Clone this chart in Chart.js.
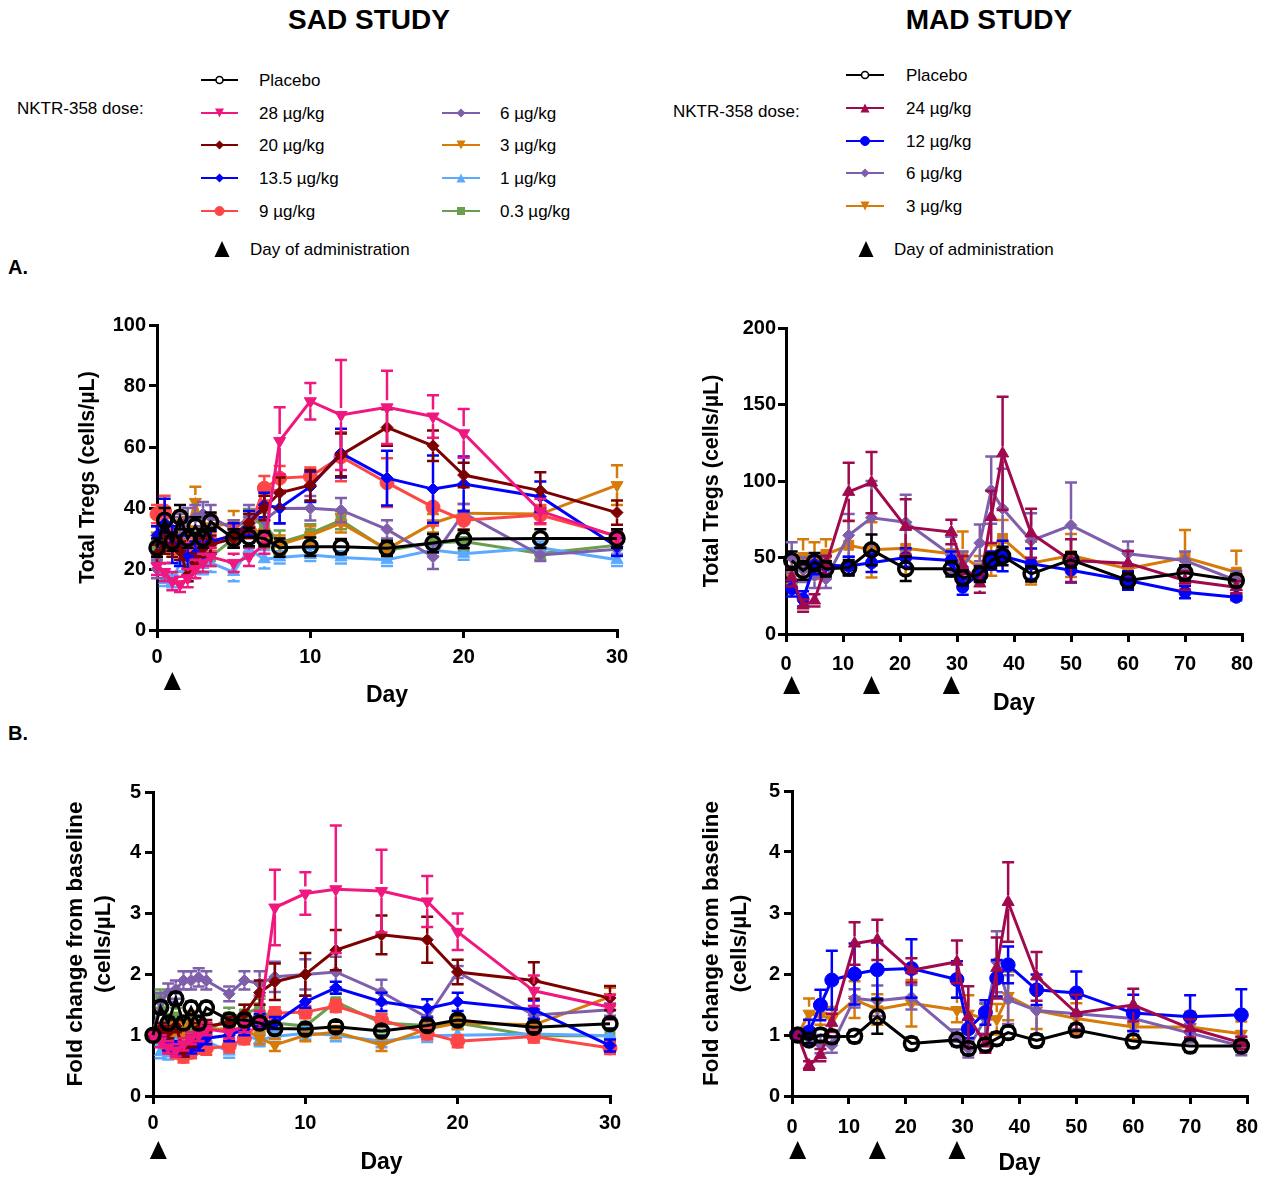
<!DOCTYPE html>
<html>
<head>
<meta charset="utf-8">
<script src="https://cdn.jsdelivr.net/npm/chart.js@4.4.1/dist/chart.umd.min.js"></script>
<style>
  body { margin: 0; background: #fff; width: 1278px; height: 1177px; position: relative; overflow: hidden;
         font-family: Arial, "Liberation Sans", sans-serif; color: #000; }
  .box { position: absolute; }
  .head { position: absolute; top: 4px; font-size: 28px; font-weight: bold; transform: translateX(-50%); white-space: nowrap; }
  .lab { position: absolute; font-size: 20px; font-weight: bold; }
  #legend { position: absolute; left: 0; top: 0; }
</style>
</head>
<body>
<div class="head" style="left:369px">SAD STUDY</div>
<div class="head" style="left:989px">MAD STUDY</div>
<div class="lab" style="left:8px;top:256px">A.</div>
<div class="lab" style="left:8px;top:722px">B.</div>
<svg id="legend" width="1278" height="270"></svg>

<div class="box" style="left:40px;top:295px"><canvas id="sadA" width="620" height="425"></canvas></div>
<div class="box" style="left:670px;top:300px"><canvas id="madA" width="608" height="425"></canvas></div>
<div class="box" style="left:40px;top:765px"><canvas id="sadB" width="620" height="412"></canvas></div>
<div class="box" style="left:670px;top:765px"><canvas id="madB" width="608" height="412"></canvas></div>

<script>
// ---- SAD study ----
var sadDays = [0, 0.5, 1, 1.5, 2, 2.5, 3, 3.5, 5, 6, 7, 8, 10, 12, 15, 18, 20, 25, 30];
var sadAdminA = [1];
var sadAdminB = [0.35];

// total Tregs (cells/uL)
var sadPlaceboA = [27, 36, 29, 37, 30, 34, 30, 35.5, 30, 30.5, 30, 27, 27.3, 27.3, 26.8, 28.5, 29.8, 30, 30];
var sad28A   = [21, 19, 16, 15, 17, 20, 22, 24, 22, 24, 28, 62, 75, 70.5, 73, 70, 64.5, 39, 30.6];
var sad20A   = [25, 28, 27, 26, 18, 22, 27, 28, 30, 35, 40, 45, 47.5, 57.4, 66.4, 60.4, 50.8, 45.7, 38.5];
var sad135A  = [31, 35, 28, 26, 24, 25, 27, 29, 31, 35, 41, 40, 47, 58, 49.8, 46.2, 47.9, 43.7, 27.3];
var sad9A    = [38, 39, 30, 28, 26, 27, 30, 29, 31, 33, 46.5, 49.8, 50.3, 56.8, 48.3, 40.3, 36, 37.7, 30.8];
var sad6A    = [20, 30, 33, 34, 36, 37, 38, 37, 33, 37, 36, 39.8, 39.9, 39.3, 33, 24, 38.3, 24.6, 26.5];
var sad3A    = [31, 33, 29, 35, 33, 42, 33, 34, 35, 35, 30, 28, 31, 35, 26.5, 35, 38.3, 38, 47.5];
var sad1A    = [23, 16.4, 16, 22, 19, 22, 21.3, 22, 19, 26.5, 23.2, 23.8, 24.6, 23.8, 23, 26.2, 25, 27, 23];
var sad03A   = [26, 34, 30, 28, 22, 24, 22, 24, 30, 36.7, 34.4, 28.6, 31.7, 36, 26.2, 28.5, 29, 25.1, 27.8];

var sadPlaceboAErr = [3, 4, 3, 4, 3, 3, 3, 3, 3, 3, 2.5, 3, 3, 2.5, 2.5, 3, 3, 3, 3];
var sad28AErr   = [3, 3, 3, 2.5, 3, 3, 3, 3, 3, 3, 3, 11, 6, 18, 12, 7, 8, 4, 2];
var sad20AErr   = [3, 3, 3, 3, 2, 3, 3, 3, 3, 3, 4, 5, 5, 7, 6, 5, 4, 6, 4];
var sad135AErr  = [3, 8, 6, 5, 4, 4, 4, 4, 4, 4, 4, 5, 5, 8, 9, 11, 9, 5, 3];
var sad9AErr    = [3, 5, 4, 3, 3, 3, 3, 3, 3, 3, 4, 4, 3, 8, 8, 6, 3, 3, 2];
var sad6AErr    = [3, 4, 4, 4, 4, 4, 4, 4, 3, 4, 4, 5, 4, 4, 3, 4, 3, 2, 2];
var sad3AErr    = [3, 4, 4, 4, 4, 5, 4, 4, 4, 4, 3, 3, 3, 3, 2, 3, 3, 3, 6.5];
var sad1AErr    = [3, 2, 2, 3, 3, 3, 3, 3, 3, 2, 3, 2, 2, 2, 2, 2, 2, 2, 2];
var sad03AErr   = [3, 3, 3, 3, 4, 3, 3, 3, 3, 3, 4, 4, 3, 3, 2, 3, 3, 2, 3];

// fold change from baseline
var sadPlaceboB = [1.0, 1.46, 1.2, 1.6, 1.2, 1.45, 1.2, 1.45, 1.25, 1.25, 1.2, 1.11, 1.1, 1.14, 1.07, 1.16, 1.25, 1.13, 1.19];
var sad28B   = [1, 0.9, 0.8, 0.75, 0.85, 0.95, 1.0, 1.1, 1.05, 1.15, 1.25, 3.1, 3.33, 3.4, 3.37, 3.2, 2.7, 1.73, 1.46];
var sad20B   = [1, 1.1, 1.05, 1.15, 0.75, 0.9, 1.1, 1.15, 1.2, 1.35, 1.7, 1.88, 2.0, 2.4, 2.65, 2.57, 2.04, 1.9, 1.61];
var sad135B  = [1, 1.1, 0.85, 0.8, 0.75, 0.8, 0.85, 0.95, 1.0, 1.1, 1.25, 1.2, 1.55, 1.78, 1.55, 1.44, 1.55, 1.42, 0.83];
var sad9B    = [1, 1.02, 0.8, 0.72, 0.65, 0.72, 0.8, 0.78, 0.82, 0.95, 1.22, 1.36, 1.38, 1.48, 1.25, 1.03, 0.9, 0.98, 0.79];
var sad6B    = [1, 1.55, 1.7, 1.75, 1.9, 1.9, 1.95, 1.9, 1.68, 1.9, 1.85, 1.96, 2.0, 2.04, 1.71, 1.29, 2.04, 1.33, 1.42];
var sad3B    = [1, 1.05, 0.95, 1.1, 1.05, 1.3, 1.05, 1.1, 1.1, 1.1, 0.95, 0.84, 1.0, 1.05, 0.84, 1.1, 1.2, 1.17, 1.63];
var sad1B    = [1, 0.72, 0.7, 0.92, 0.8, 0.9, 0.88, 0.9, 0.73, 1.0, 0.92, 0.98, 1.03, 1.0, 0.9, 0.99, 1.0, 1.02, 0.99];
var sad03B   = [1, 1.6, 1.2, 1.3, 1.05, 1.1, 0.98, 1.05, 1.3, 1.35, 1.45, 1.2, 1.15, 1.55, 1.2, 1.16, 1.2, 0.99, 0.99];

var sadPlaceboBErr = [0, 0.1, 0.1, 0.1, 0.1, 0.1, 0.1, 0.1, 0.1, 0.1, 0.1, 0.1, 0.08, 0.08, 0.08, 0.08, 0.08, 0.08, 0.08];
var sad28BErr   = [0, 0.1, 0.1, 0.1, 0.1, 0.1, 0.1, 0.1, 0.1, 0.1, 0.15, 0.62, 0.35, 1.05, 0.68, 0.42, 0.3, 0.25, 0.2];
var sad20BErr   = [0, 0.1, 0.1, 0.1, 0.1, 0.1, 0.1, 0.1, 0.1, 0.15, 0.2, 0.3, 0.35, 0.33, 0.32, 0.38, 0.2, 0.3, 0.2];
var sad135BErr  = [0, 0.1, 0.1, 0.1, 0.1, 0.1, 0.1, 0.1, 0.1, 0.1, 0.1, 0.1, 0.1, 0.1, 0.15, 0.15, 0.15, 0.15, 0.1];
var sad9BErr    = [0, 0.1, 0.1, 0.1, 0.1, 0.1, 0.1, 0.1, 0.1, 0.1, 0.1, 0.1, 0.1, 0.1, 0.1, 0.1, 0.1, 0.1, 0.1];
var sad6BErr    = [0, 0.15, 0.15, 0.15, 0.15, 0.15, 0.15, 0.15, 0.12, 0.15, 0.2, 0.25, 0.25, 0.25, 0.2, 0.15, 0.1, 0.1, 0.1];
var sad3BErr    = [0, 0.1, 0.1, 0.1, 0.1, 0.1, 0.1, 0.1, 0.1, 0.1, 0.1, 0.1, 0.1, 0.1, 0.1, 0.1, 0.1, 0.1, 0.15];
var sad1BErr    = [0, 0.1, 0.1, 0.1, 0.1, 0.1, 0.1, 0.1, 0.1, 0.1, 0.1, 0.1, 0.1, 0.1, 0.1, 0.1, 0.1, 0.1, 0.1];
var sad03BErr   = [0, 0.15, 0.15, 0.15, 0.15, 0.15, 0.15, 0.15, 0.15, 0.15, 0.15, 0.15, 0.15, 0.15, 0.15, 0.15, 0.1, 0.1, 0.1];

// ---- MAD study ----
var madDays = [1, 3, 5, 7, 11, 15, 21, 29, 31, 34, 36, 38, 43, 50, 60, 70, 79];
var madAdmin = [1, 15, 29];

var madPlaceboA = [48, 41.5, 47, 42.6, 43.3, 55, 42.6, 42.6, 36.7, 39, 48, 51, 39.3, 48.5, 35, 40, 35];
var mad24A   = [37, 18.6, 21.9, 45, 92.9, 99, 70, 66.6, 45, 33, 76.5, 118, 65.8, 48, 46.3, 35, 30.6];
var mad12A   = [29.5, 23, 45, 45, 44.5, 46.5, 50, 48, 30.6, 39.5, 48, 51, 45.9, 41.7, 35, 27.3, 24];
var mad6A    = [50, 42, 38, 36, 64.5, 76, 73, 51.5, 44, 59.5, 94, 82, 61, 71, 52.5, 48, 35];
var mad3A    = [41, 50, 48, 52, 58, 55, 56, 52.5, 51, 43, 48, 62.5, 46.3, 51.3, 42.6, 50, 40.4];

var madPlaceboAErr = [6, 6, 6, 5, 5, 10, 8, 5, 5, 5, 5, 6, 5, 5, 5, 5, 4];
var mad24AErr   = [6, 4, 4, 6, 19, 20, 18, 8, 6, 6, 17, 37, 16, 14, 8, 6, 4];
var mad12AErr   = [5, 5, 6, 6, 6, 6, 6, 6, 5, 5, 6, 10, 10, 8, 6, 4, 2];
var mad6AErr    = [10, 8, 8, 6, 14, 24, 18, 12, 10, 12, 22, 26, 18, 28, 8, 6, 6];
var mad3AErr    = [8, 12, 12, 10, 16, 18, 17, 12, 16, 8, 10, 12, 14, 14, 10, 18, 14];

var madPlaceboB = [1.0, 0.92, 1.0, 0.97, 0.98, 1.3, 0.86, 0.92, 0.78, 0.84, 0.94, 1.04, 0.91, 1.08, 0.9, 0.82, 0.82];
var mad24B   = [1.0, 0.5, 0.67, 1.2, 2.5, 2.56, 2.06, 2.2, 1.3, 0.86, 2.1, 3.18, 1.96, 1.36, 1.49, 1.11, 0.87];
var mad12B   = [1.0, 1.05, 1.49, 1.9, 2.0, 2.07, 2.09, 1.91, 1.1, 1.37, 1.93, 2.15, 1.74, 1.69, 1.36, 1.3, 1.33];
var mad6B    = [1.0, 0.95, 0.85, 0.83, 1.6, 1.56, 1.62, 0.99, 0.78, 1.27, 2.2, 1.58, 1.4, 1.35, 1.27, 1.03, 0.82];
var mad3B    = [1.0, 1.35, 1.32, 1.26, 1.58, 1.42, 1.52, 1.41, 1.35, 1.26, 1.26, 1.64, 1.4, 1.27, 1.13, 1.13, 1.02];

var madPlaceboBErr = [0, 0.05, 0.1, 0.1, 0.1, 0.28, 0.1, 0.1, 0.1, 0.1, 0.1, 0.1, 0.1, 0.1, 0.1, 0.1, 0.1];
var mad24BErr   = [0, 0.07, 0.1, 0.15, 0.35, 0.33, 0.2, 0.35, 0.5, 0.15, 0.5, 0.65, 0.4, 0.3, 0.27, 0.15, 0.1];
var mad12BErr   = [0, 0.2, 0.25, 0.48, 0.5, 0.47, 0.48, 0.3, 0.15, 0.2, 0.3, 0.3, 0.25, 0.35, 0.3, 0.35, 0.42];
var mad6BErr    = [0, 0.1, 0.15, 0.12, 0.15, 0.25, 0.2, 0.1, 0.15, 0.25, 0.5, 0.4, 0.4, 0.25, 0.2, 0.15, 0.15];
var mad3BErr    = [0, 0.25, 0.15, 0.2, 0.3, 0.25, 0.38, 0.2, 0.3, 0.25, 0.25, 0.4, 0.3, 0.25, 0.2, 0.25, 0.2];

// ---- styles ----
var BLACK = '#000000', PINK = '#F0177F', DARKRED = '#7D0000', BLUE = '#0000FF', RED = '#FF4646',
    PURPLE = '#7F5FAB', ORANGE = '#D67A0A', LIGHTBLUE = '#5AAAFF', GREEN = '#6A9F4E', CRIMSON = '#A0094E';

Chart.defaults.font.family = 'Arial, "Liberation Sans", sans-serif';
Chart.defaults.color = '#000';

// vertical error bars with caps; the part under the symbol is left out (open placebo circles stay empty)
var errorBars = {
  id: 'errorBars',
  beforeDatasetDraw: function (chart, args) {
    var ds = chart.data.datasets[args.index];
    if (!ds.errors) return;
    var ctx = chart.ctx, y = chart.scales.y, gap = ds.pointRadius;
    ctx.save();
    ctx.strokeStyle = ds.borderColor;
    ctx.lineWidth = 2.5;
    args.meta.data.forEach(function (pt, i) {
      var e = ds.errors[i];
      if (!e) return;
      var v = ds.data[i].y;
      var top = y.getPixelForValue(v + e), bot = y.getPixelForValue(v - e);
      ctx.beginPath();
      if (pt.y - gap > top) { ctx.moveTo(pt.x, top); ctx.lineTo(pt.x, pt.y - gap); }
      if (pt.y + gap < bot) { ctx.moveTo(pt.x, pt.y + gap); ctx.lineTo(pt.x, bot); }
      ctx.moveTo(pt.x - 6, top); ctx.lineTo(pt.x + 6, top);
      ctx.moveTo(pt.x - 6, bot); ctx.lineTo(pt.x + 6, bot);
      ctx.stroke();
    });
    ctx.restore();
  }
};

var adminMarks = {
  id: 'adminMarks',
  afterDraw: function (chart, args, opts) {
    if (!opts.days) return;
    var ctx = chart.ctx, x = chart.scales.x, yc = chart.chartArea.bottom + opts.offset;
    ctx.save();
    ctx.fillStyle = '#000';
    opts.days.forEach(function (d) {
      var px = x.getPixelForValue(d);
      ctx.beginPath();
      ctx.moveTo(px, yc - 9);
      ctx.lineTo(px + 8.5, yc + 9);
      ctx.lineTo(px - 8.5, yc + 9);
      ctx.closePath();
      ctx.fill();
    });
    ctx.restore();
  }
};

function series(name, values, errors, color, shape, rot, r, open) {
  return { name: name, values: values, errors: errors, color: color, shape: shape, rot: rot, r: r, open: open };
}

function makeChart(id, days, list, yMax, yStep, xMax, yTitle, admin, lay) {
  var datasets = list.map(function (s) {
    return {
      label: s.name,
      data: days.map(function (d, i) { return { x: d, y: s.values[i] }; }),
      errors: s.errors,
      borderColor: s.color,
      backgroundColor: s.color,
      pointBorderColor: s.color,
      pointBackgroundColor: s.open ? 'rgba(0,0,0,0)' : s.color,
      pointStyle: s.shape,
      rotation: s.rot,
      pointRadius: s.r,
      pointBorderWidth: s.open ? 3.5 : 1,
      borderWidth: 3,
      clip: false,
      tension: 0
    };
  });
  var axisGrid = { display: true, drawOnChartArea: false, drawTicks: true, tickLength: 8, color: '#000', lineWidth: 3, tickWidth: 3 };
  new Chart(document.getElementById(id), {
    type: 'line',
    data: { datasets: datasets },
    plugins: [errorBars, adminMarks],
    options: {
      responsive: false,
      animation: false,
      layout: { padding: { left: 0, top: lay.top, right: lay.right, bottom: 0 } },
      plugins: {
        legend: { display: false },
        tooltip: { enabled: false },
        adminMarks: { days: admin, offset: lay.tri }
      },
      scales: {
        x: {
          type: 'linear', min: 0, max: xMax,
          afterFit: function (s) { s.height = lay.xh; },
          ticks: { stepSize: 10, padding: lay.xtp, font: { size: 20, weight: 'bold' }, color: '#000' },
          grid: axisGrid,
          border: { display: true, color: '#000', width: 3 },
          title: { display: true, text: 'Day', font: { size: 23, weight: 'bold' }, color: '#000', padding: { top: 0, bottom: lay.xtb } }
        },
        y: {
          min: 0, max: yMax,
          afterFit: function (s) { s.width = lay.yw; },
          ticks: { stepSize: yStep, padding: lay.ytk, font: { size: 20, weight: 'bold' }, color: '#000' },
          grid: axisGrid,
          border: { display: true, color: '#000', width: 3 },
          title: { display: true, text: yTitle, font: { size: lay.yfs, weight: 'bold', lineHeight: lay.ylh }, color: '#000', padding: { top: lay.ytp, bottom: 0 } }
        }
      }
    }
  });
}

var sadListA = [
  series('Placebo', sadPlaceboA, sadPlaceboAErr, BLACK, 'circle', 0, 7, true),
  series('28 µg/kg', sad28A, sad28AErr, PINK, 'triangle', 180, 7),
  series('20 µg/kg', sad20A, sad20AErr, DARKRED, 'rectRot', 0, 6),
  series('13.5 µg/kg', sad135A, sad135AErr, BLUE, 'rectRot', 0, 6),
  series('9 µg/kg', sad9A, sad9AErr, RED, 'circle', 0, 7),
  series('6 µg/kg', sad6A, sad6AErr, PURPLE, 'rectRot', 0, 6),
  series('3 µg/kg', sad3A, sad3AErr, ORANGE, 'triangle', 180, 7),
  series('1 µg/kg', sad1A, sad1AErr, LIGHTBLUE, 'triangle', 0, 7),
  series('0.3 µg/kg', sad03A, sad03AErr, GREEN, 'rect', 0, 7)
];
var sadListB = [
  series('Placebo', sadPlaceboB, sadPlaceboBErr, BLACK, 'circle', 0, 7, true),
  series('28 µg/kg', sad28B, sad28BErr, PINK, 'triangle', 180, 7),
  series('20 µg/kg', sad20B, sad20BErr, DARKRED, 'rectRot', 0, 6),
  series('13.5 µg/kg', sad135B, sad135BErr, BLUE, 'rectRot', 0, 6),
  series('9 µg/kg', sad9B, sad9BErr, RED, 'circle', 0, 7),
  series('6 µg/kg', sad6B, sad6BErr, PURPLE, 'rectRot', 0, 6),
  series('3 µg/kg', sad3B, sad3BErr, ORANGE, 'triangle', 180, 7),
  series('1 µg/kg', sad1B, sad1BErr, LIGHTBLUE, 'triangle', 0, 7),
  series('0.3 µg/kg', sad03B, sad03BErr, GREEN, 'rect', 0, 7)
];
var madListA = [
  series('Placebo', madPlaceboA, madPlaceboAErr, BLACK, 'circle', 0, 7, true),
  series('24 µg/kg', mad24A, mad24AErr, CRIMSON, 'triangle', 0, 7),
  series('12 µg/kg', mad12A, mad12AErr, BLUE, 'circle', 0, 6),
  series('6 µg/kg', mad6A, mad6AErr, PURPLE, 'rectRot', 0, 6),
  series('3 µg/kg', mad3A, mad3AErr, ORANGE, 'rect', 0, 7)
];
var madListB = [
  series('Placebo', madPlaceboB, madPlaceboBErr, BLACK, 'circle', 0, 7, true),
  series('24 µg/kg', mad24B, mad24BErr, CRIMSON, 'triangle', 0, 7),
  series('12 µg/kg', mad12B, mad12BErr, BLUE, 'circle', 0, 7),
  series('6 µg/kg', mad6B, mad6BErr, PURPLE, 'rectRot', 0, 6),
  series('3 µg/kg', mad3B, mad3BErr, ORANGE, 'triangle', 180, 7)
];

var foldTitle = ['Fold change from baseline', '(cells/µL)'];

makeChart('sadA', sadDays, sadListA, 100, 20, 30, 'Total Tregs (cells/µL)', sadAdminA,
  { top: 30, right: 43, xh: 90, xtp: 7, xtb: 11, yw: 117, ytk: 3, ytp: 35, yfs: 21.5, ylh: 1.2, tri: 51 });
makeChart('madA', madDays, madListA, 200, 50, 80, 'Total Tregs (cells/µL)', madAdmin,
  { top: 28, right: 36, xh: 91, xtp: 10, xtb: 8, yw: 116, ytk: 2, ytp: 29, yfs: 21.5, ylh: 1.2, tri: 51 });
makeChart('sadB', sadDays, sadListB, 5, 1, 30, foldTitle, sadAdminB,
  { top: 27, right: 50, xh: 81, xtp: 7, xtb: 1, yw: 113, ytk: 4, ytp: 22, yfs: 22.5, ylh: 1.245, tri: 54 });
makeChart('madB', madDays, madListB, 5, 1, 80, foldTitle, madAdmin,
  { top: 26, right: 31, xh: 81, xtp: 11, xtb: 0, yw: 122, ytk: 4, ytp: 28, yfs: 22.5, ylh: 1.245, tri: 54 });

// ---- legends ----
var NS = 'http://www.w3.org/2000/svg';
var svg = document.getElementById('legend');
var LFONT = 'Arial, Liberation Sans, sans-serif';

function el(tag, attrs, text) {
  var e = document.createElementNS(NS, tag);
  for (var k in attrs) e.setAttribute(k, attrs[k]);
  if (text) e.textContent = text;
  svg.appendChild(e);
  return e;
}

function marker(shape, rot, cx, cy, color, open) {
  var s = 4.5;
  if (shape === 'circle') {
    el('circle', { cx: cx, cy: cy, r: open ? 3.5 : 4.5, fill: open ? '#fff' : color, stroke: color, 'stroke-width': open ? 1.6 : 1 });
  } else if (shape === 'triangle') {
    var d = rot === 180 ? -1 : 1;
    el('polygon', { points: [cx, cy - d * s, cx + s, cy + d * s, cx - s, cy + d * s].join(' '), fill: color });
  } else if (shape === 'rectRot') {
    el('polygon', { points: [cx, cy - s, cx + s, cy, cx, cy + s, cx - s, cy].join(' '), fill: color });
  } else {
    el('rect', { x: cx - 4, y: cy - 4, width: 8, height: 8, fill: color });
  }
}

function legendRow(s, x1, x2, xt, y) {
  el('line', { x1: x1, y1: y, x2: x2, y2: y, stroke: s.color, 'stroke-width': 2 });
  marker(s.shape, s.rot, (x1 + x2) / 2, y, s.color, s.open);
  el('text', { x: xt, y: y + 6, 'font-size': 17, 'font-family': LFONT }, s.name);
}

function adminRow(x, xt, y) {
  el('polygon', { points: [x, y - 8, x + 7.5, y + 8, x - 7.5, y + 8].join(' '), fill: '#000' });
  el('text', { x: xt, y: y + 6, 'font-size': 17, 'font-family': LFONT }, 'Day of administration');
}

el('text', { x: 17, y: 114, 'font-size': 17, 'font-family': LFONT }, 'NKTR-358 dose:');
var sadRows = [80, 113, 145, 178, 211];
for (var i = 0; i <= 4; i++) legendRow(sadListA[i], 201, 238, 259, sadRows[i]);
for (var j = 5; j <= 8; j++) legendRow(sadListA[j], 442, 480, 500, sadRows[j - 4]);
adminRow(222, 250, 249);

el('text', { x: 673, y: 117, 'font-size': 17, 'font-family': LFONT }, 'NKTR-358 dose:');
var madRows = [75, 108, 141, 173, 206];
var madLegend = [madListA[0], madListA[1], madListA[2], madListA[3], madListB[4]];
for (var k = 0; k < madLegend.length; k++) legendRow(madLegend[k], 846, 884, 906, madRows[k]);
adminRow(866, 894, 249);
</script>
</body>
</html>
